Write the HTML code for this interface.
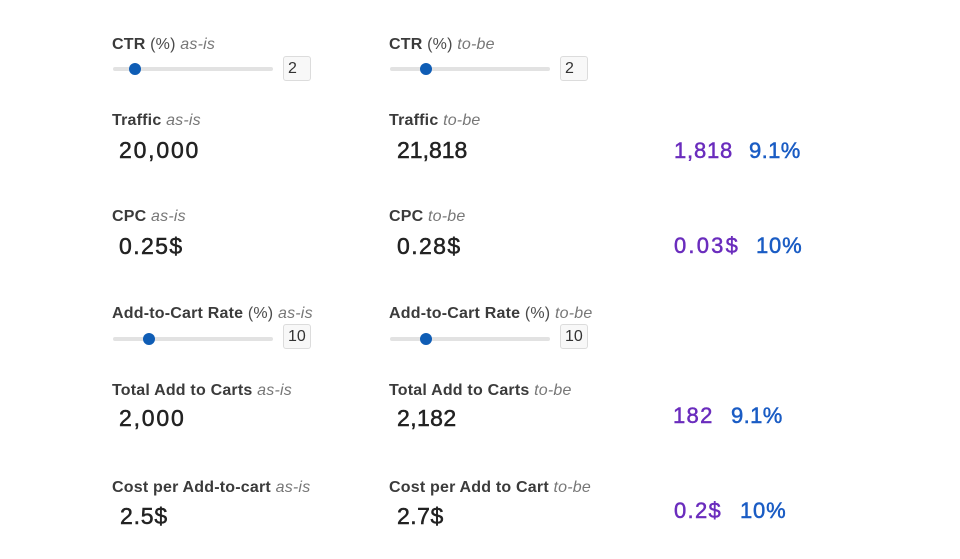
<!DOCTYPE html>
<html><head><meta charset="utf-8">
<style>
html,body{margin:0;padding:0;background:#fff;}
body{width:960px;height:559px;position:relative;overflow:hidden;font-family:"Liberation Sans",Arial,sans-serif;}
.a{position:absolute;white-space:nowrap;}
.lab{font-size:16px;line-height:16px;color:#3b3b3b;font-weight:bold;letter-spacing:0.2px;}
.lab .p{font-weight:normal;color:#4a4a4a;}
.lab i{font-weight:normal;color:#777;}
.val{font-size:23px;line-height:23px;color:#222;-webkit-text-stroke:0.5px #222;}
.d{font-size:22px;line-height:22px;}
.pu{color:#6a2cbd;-webkit-text-stroke:0.5px #6a2cbd;}
.bl{color:#1a5cc4;-webkit-text-stroke:0.5px #1a5cc4;}
.tr{position:absolute;height:4px;background:#e2e2e2;border-radius:2px;}
.th{position:absolute;width:12px;height:12px;border-radius:50%;background:#0f5db5;}
.bx{position:absolute;width:26px;height:23px;border:1px solid #dcdcdc;border-radius:3px;background:#f8f8f8;font-size:16px;line-height:23px;color:#333;box-sizing:content-box;}
.bx span{position:absolute;left:4px;top:0;}
</style></head><body>

<!-- Row 1 CTR -->
<div class="a lab" style="left:112px;top:36.5px">CTR <span class="p">(%)</span> <i>as-is</i></div>
<div class="tr" style="left:113px;top:67px;width:160px"></div>
<div class="th" style="left:129px;top:63px"></div>
<div class="bx" style="left:283px;top:56px"><span>2</span></div>

<div class="a lab" style="left:389px;top:36.5px">CTR <span class="p">(%)</span> <i>to-be</i></div>
<div class="tr" style="left:390px;top:67px;width:160px"></div>
<div class="th" style="left:420px;top:63px"></div>
<div class="bx" style="left:560px;top:56px"><span>2</span></div>

<!-- Row 2 Traffic -->
<div class="a lab" style="left:112px;top:112.5px">Traffic <i>as-is</i></div>
<div class="a val" style="left:119px;top:139px;letter-spacing:1.8px">20,000</div>
<div class="a lab" style="left:389px;top:112.5px">Traffic <i>to-be</i></div>
<div class="a val" style="left:397px;top:139px;letter-spacing:0px">21,818</div>
<div class="a d pu" style="left:674px;top:140px;letter-spacing:0.8px">1,818</div>
<div class="a d bl" style="left:749px;top:140px;letter-spacing:0.4px">9.1%</div>

<!-- Row 3 CPC -->
<div class="a lab" style="left:112px;top:208.5px">CPC <i>as-is</i></div>
<div class="a val" style="left:119px;top:234.5px;letter-spacing:1.4px">0.25$</div>
<div class="a lab" style="left:389px;top:208.5px">CPC <i>to-be</i></div>
<div class="a val" style="left:397px;top:234.5px;letter-spacing:1.4px">0.28$</div>
<div class="a d pu" style="left:674px;top:235px;letter-spacing:2.2px">0.03$</div>
<div class="a d bl" style="left:756px;top:235px;letter-spacing:0.8px">10%</div>

<!-- Row 4 ATC rate -->
<div class="a lab" style="left:112px;top:305.5px">Add-to-Cart Rate <span class="p">(%)</span> <i>as-is</i></div>
<div class="tr" style="left:113px;top:337px;width:160px"></div>
<div class="th" style="left:143px;top:332.5px"></div>
<div class="bx" style="left:283px;top:324px"><span>10</span></div>

<div class="a lab" style="left:389px;top:305.5px">Add-to-Cart Rate <span class="p">(%)</span> <i>to-be</i></div>
<div class="tr" style="left:390px;top:337px;width:160px"></div>
<div class="th" style="left:420px;top:332.5px"></div>
<div class="bx" style="left:560px;top:324px"><span>10</span></div>

<!-- Row 5 Total ATC -->
<div class="a lab" style="left:112px;top:382.5px">Total Add to Carts <i>as-is</i></div>
<div class="a val" style="left:119px;top:406.5px;letter-spacing:1.8px">2,000</div>
<div class="a lab" style="left:389px;top:382.5px">Total Add to Carts <i>to-be</i></div>
<div class="a val" style="left:397px;top:406.5px;letter-spacing:0.4px">2,182</div>
<div class="a d pu" style="left:673px;top:405px;letter-spacing:1.3px">182</div>
<div class="a d bl" style="left:731px;top:405px;letter-spacing:0.4px">9.1%</div>

<!-- Row 6 Cost per ATC -->
<div class="a lab" style="left:112px;top:479.5px">Cost per Add-to-cart <i>as-is</i></div>
<div class="a val" style="left:120px;top:504.5px;letter-spacing:0.8px">2.5$</div>
<div class="a lab" style="left:389px;top:479.5px">Cost per Add to Cart <i>to-be</i></div>
<div class="a val" style="left:397px;top:504.5px;letter-spacing:0.5px">2.7$</div>
<div class="a d pu" style="left:674px;top:500px;letter-spacing:1.3px">0.2$</div>
<div class="a d bl" style="left:740px;top:500px;letter-spacing:0.8px">10%</div>

</body></html>
